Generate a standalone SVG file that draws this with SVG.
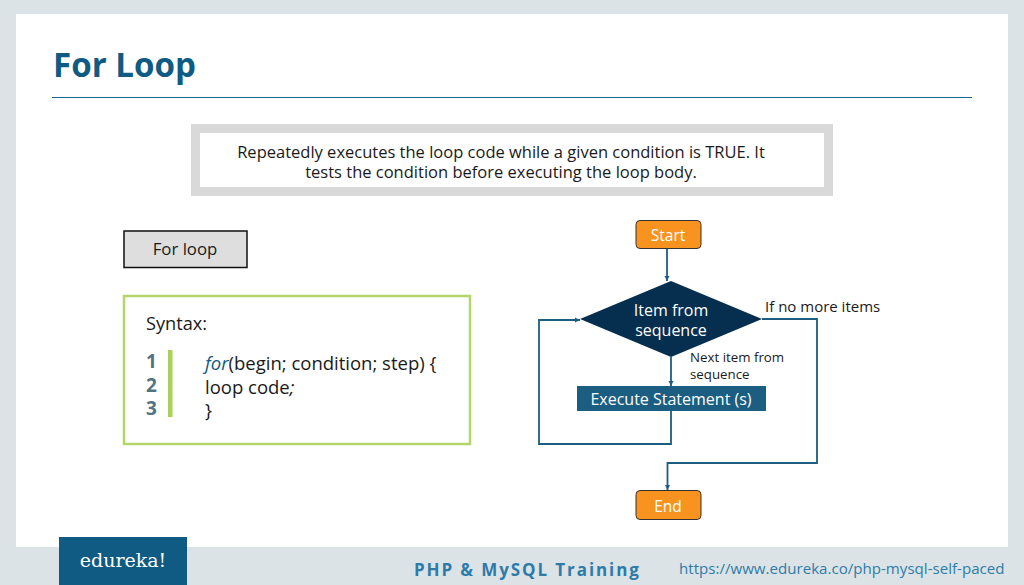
<svg xmlns="http://www.w3.org/2000/svg" width="1024" height="585" viewBox="0 0 1024 585">
<style>
text{font-family:"Open Sans","Noto Sans","Liberation Sans",sans-serif}
.c{text-anchor:middle}
.k{fill:#1a1a1a}
.w{fill:#fff}
.conn{fill:none;stroke:#1b5e82;stroke-width:1.800}
.or{fill:#f7931e;stroke:#333;stroke-width:1}
</style>
<defs><marker id="a" markerUnits="userSpaceOnUse" markerWidth="6" markerHeight="6" refX="5" refY="3" orient="auto"><path d="M0 0.500L5 3L0 5.500Z" fill="#1b5e82"/></marker></defs>
<rect width="1024" height="585" fill="#dce3e6"/>
<rect x="16" y="14" width="992" height="533" fill="#fff"/>
<g id="title">
<text x="53" y="77" font-size="33.100" font-weight="700" fill="#0f5b83">For Loop</text>
<rect x="52" y="97" width="920" height="1" fill="#1b6a90"/>
</g>
<g id="description">
<rect x="195.500" y="128.500" width="633" height="63" fill="#fff" stroke="#d9d9d9" stroke-width="9"/>
<text class="c k" x="501" y="158" font-size="16.500">Repeatedly executes the loop code while a given condition is TRUE. It</text>
<text class="c k" x="501" y="178" font-size="16.500">tests the condition before executing the loop body.</text>
</g>
<g id="for-loop-label">
<rect x="124" y="231" width="123" height="36.500" fill="#dedede" stroke="#111" stroke-width="1.500"/>
<text class="c k" x="185" y="255" font-size="16.800">For loop</text>
</g>
<g id="syntax">
<rect x="124" y="296" width="346" height="148" fill="#fff" stroke="#b5d56a" stroke-width="2.500"/>
<text class="k" x="146" y="330" font-size="18.200">Syntax:</text>
<rect x="168" y="350" width="4.500" height="67" fill="#a9d15c"/>
<g font-size="19" font-weight="700" fill="#53747f">
<text x="146" y="368">1</text><text x="146" y="392">2</text><text x="146" y="415">3</text>
</g>
<g class="k" font-size="18.500">
<text x="205" y="370"><tspan font-style="italic" fill="#0f5b83">for</tspan>(begin; condition; step) {</text>
<text x="205" y="394">loop code<tspan font-style="italic">;</tspan></text>
<text x="205" y="417">}</text>
</g>
</g>
<g id="connectors" class="conn">
<path d="M667 248V281" marker-end="url(#a)"/>
<path d="M671 357V386" marker-end="url(#a)"/>
<path d="M671 411V444H539V320H580" marker-end="url(#a)"/>
<path d="M762 319H817V463H667.500V490" marker-end="url(#a)"/>
</g>
<g id="start">
<rect class="or" x="636" y="220.500" width="65" height="28" rx="4"/>
<text class="c w" x="668" y="241" font-size="15.500">Start</text>
</g>
<g id="decision">
<path d="M580 319L671 281L762 319L671 357Z" fill="#052e4f"/>
<text class="c w" x="671" y="316" font-size="16">Item from</text>
<text class="c w" x="671" y="336" font-size="16">sequence</text>
</g>
<g id="execute">
<rect x="577" y="386" width="189" height="25" fill="#1b5e82"/>
<text class="c w" x="671" y="405" font-size="16">Execute Statement (s)</text>
</g>
<g id="end">
<rect class="or" x="636" y="490.500" width="65" height="29" rx="4"/>
<text class="c w" x="668" y="512" font-size="15.500">End</text>
</g>
<g id="labels" class="k">
<text x="765" y="312" font-size="15">If no more items</text>
<text x="690" y="362" font-size="13.300">Next item from</text>
<text x="690" y="379" font-size="13.300">sequence</text>
</g>
<g id="footer">
<rect x="59" y="537" width="128" height="48" fill="#0f5b83"/>
<text class="c w" x="123" y="567" font-size="19" style="font-family:'DejaVu Serif','Liberation Serif',serif">edureka!</text>
<text x="414" y="576" font-size="17" font-weight="700" letter-spacing="1.900" fill="#2e7ba8">PHP &amp; MySQL Training</text>
<text x="679" y="574" font-size="15.100" fill="#2e7ba8">https://www.edureka.co/php-mysql-self-paced</text>
</g>
</svg>
